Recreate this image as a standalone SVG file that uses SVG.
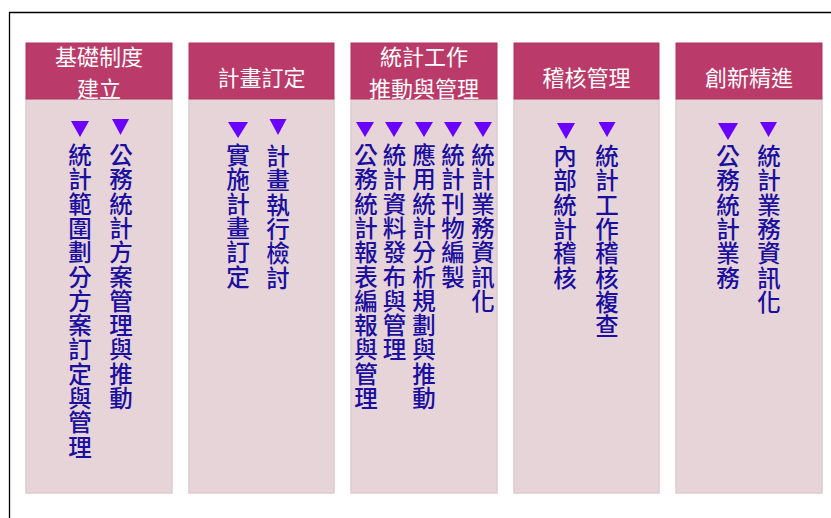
<svg xmlns="http://www.w3.org/2000/svg" width="831" height="518" viewBox="0 0 831 518">
<style>
.body{fill:#e6d4d9;stroke:#dccbd0;stroke-width:1.5}
.head{fill:#ba3b69;stroke:#b0355f;stroke-width:1}
.ht{font-family:"Noto Sans CJK TC","Noto Sans CJK SC",sans-serif;font-size:22px;fill:#ffffff;text-anchor:middle;dominant-baseline:central}
.vt{font-family:"Noto Sans CJK TC","Noto Sans CJK SC",sans-serif;font-size:23.5px;fill:#1a0f9e;text-anchor:middle;dominant-baseline:central;font-weight:500}
.tri{fill:#6a00ff}
</style>
<rect width="831" height="518" fill="#ffffff"/>
<path d="M831,12.5 H9.5 V518" fill="none" stroke="#000" stroke-width="1.3"/>

<g id="col1">
<rect class="body" x="26" y="99" width="146" height="394"/>
<rect class="head" x="26" y="43" width="146" height="56"/>
<text class="ht" x="99" y="54.5">基礎制度</text>
<text class="ht" x="99" y="86.5">建立</text>
<polygon class="tri" points="71,121 89,121 80,137"/>
<polygon class="tri" points="112,119 129,119 120.5,135"/>
<text class="vt" x="80 80 80 80 80 80 80 80 80 80 80 80 80" y="154 178.3 202.6 226.9 251.2 275.5 299.8 324.1 348.4 372.7 397 421.3 445.6">統計範圍劃分方案訂定與管理</text>
<text class="vt" x="121 121 121 121 121 121 121 121 121 121 121" y="154 178.3 202.6 226.9 251.2 275.5 299.8 324.1 348.4 372.7 397">公務統計方案管理與推動</text>
</g>

<g id="col2">
<rect class="body" x="189" y="99" width="145" height="394"/>
<rect class="head" x="189" y="43" width="145" height="56"/>
<text class="ht" x="261.5" y="76">計畫訂定</text>
<polygon class="tri" points="228,122 248,122 238,138"/>
<polygon class="tri" points="269.5,119 286.5,119 278,135"/>
<text class="vt" x="238 238 238 238 238 238" y="154 178.3 202.6 226.9 251.2 275.5">實施計畫訂定</text>
<text class="vt" x="278 278 278 278 278 278" y="155 179.3 203.6 227.9 252.2 276.5">計畫執行檢討</text>
</g>

<g id="col3">
<rect class="body" x="351" y="99" width="146" height="394"/>
<rect class="head" x="351" y="43" width="146" height="56"/>
<text class="ht" x="424" y="54.5">統計工作</text>
<text class="ht" x="424" y="86.5">推動與管理</text>
<polygon class="tri" points="356,122 374,122 365,137"/>
<polygon class="tri" points="385,122 403,122 394,137"/>
<polygon class="tri" points="415,122 433,122 424,137"/>
<polygon class="tri" points="444,122 462,122 453,137"/>
<polygon class="tri" points="474,122 492,122 483,137"/>
<text class="vt" x="366 366 366 366 366 366 366 366 366 366 366" y="154 178.3 202.6 226.9 251.2 275.5 299.8 324.1 348.4 372.7 397">公務統計報表編報與管理</text>
<text class="vt" x="394.5 394.5 394.5 394.5 394.5 394.5 394.5 394.5 394.5" y="154 178.3 202.6 226.9 251.2 275.5 299.8 324.1 348.4">統計資料發布與管理</text>
<text class="vt" x="424 424 424 424 424 424 424 424 424 424 424" y="154 178.3 202.6 226.9 251.2 275.5 299.8 324.1 348.4 372.7 397">應用統計分析規劃與推動</text>
<text class="vt" x="453 453 453 453 453 453" y="154 178.3 202.6 226.9 251.2 275.5">統計刊物編製</text>
<text class="vt" x="483 483 483 483 483 483 483" y="154 178.3 202.6 226.9 251.2 275.5 299.8">統計業務資訊化</text>
</g>

<g id="col4">
<rect class="body" x="514" y="99" width="145" height="394"/>
<rect class="head" x="514" y="43" width="145" height="56"/>
<text class="ht" x="586.5" y="76">稽核管理</text>
<polygon class="tri" points="557,123 575,123 566,139"/>
<polygon class="tri" points="598.5,122 615.5,122 607,137"/>
<text class="vt" x="565 565 565 565 565 565" y="155 179.3 203.6 227.9 252.2 276.5">內部統計稽核</text>
<text class="vt" x="607 607 607 607 607 607 607 607" y="155 179.3 203.6 227.9 252.2 276.5 300.8 325.1">統計工作稽核複查</text>
</g>

<g id="col5">
<rect class="body" x="676" y="99" width="146" height="394"/>
<rect class="head" x="676" y="43" width="146" height="56"/>
<text class="ht" x="749" y="76">創新精進</text>
<polygon class="tri" points="718,123 738,123 728,140"/>
<polygon class="tri" points="760,122 777,122 768.5,137"/>
<text class="vt" x="728 728 728 728 728 728" y="155 179.3 203.6 227.9 252.2 276.5">公務統計業務</text>
<text class="vt" x="769 769 769 769 769 769 769" y="155 179.3 203.6 227.9 252.2 276.5 300.8">統計業務資訊化</text>
</g>

<g id="connectors"></g>
</svg>
